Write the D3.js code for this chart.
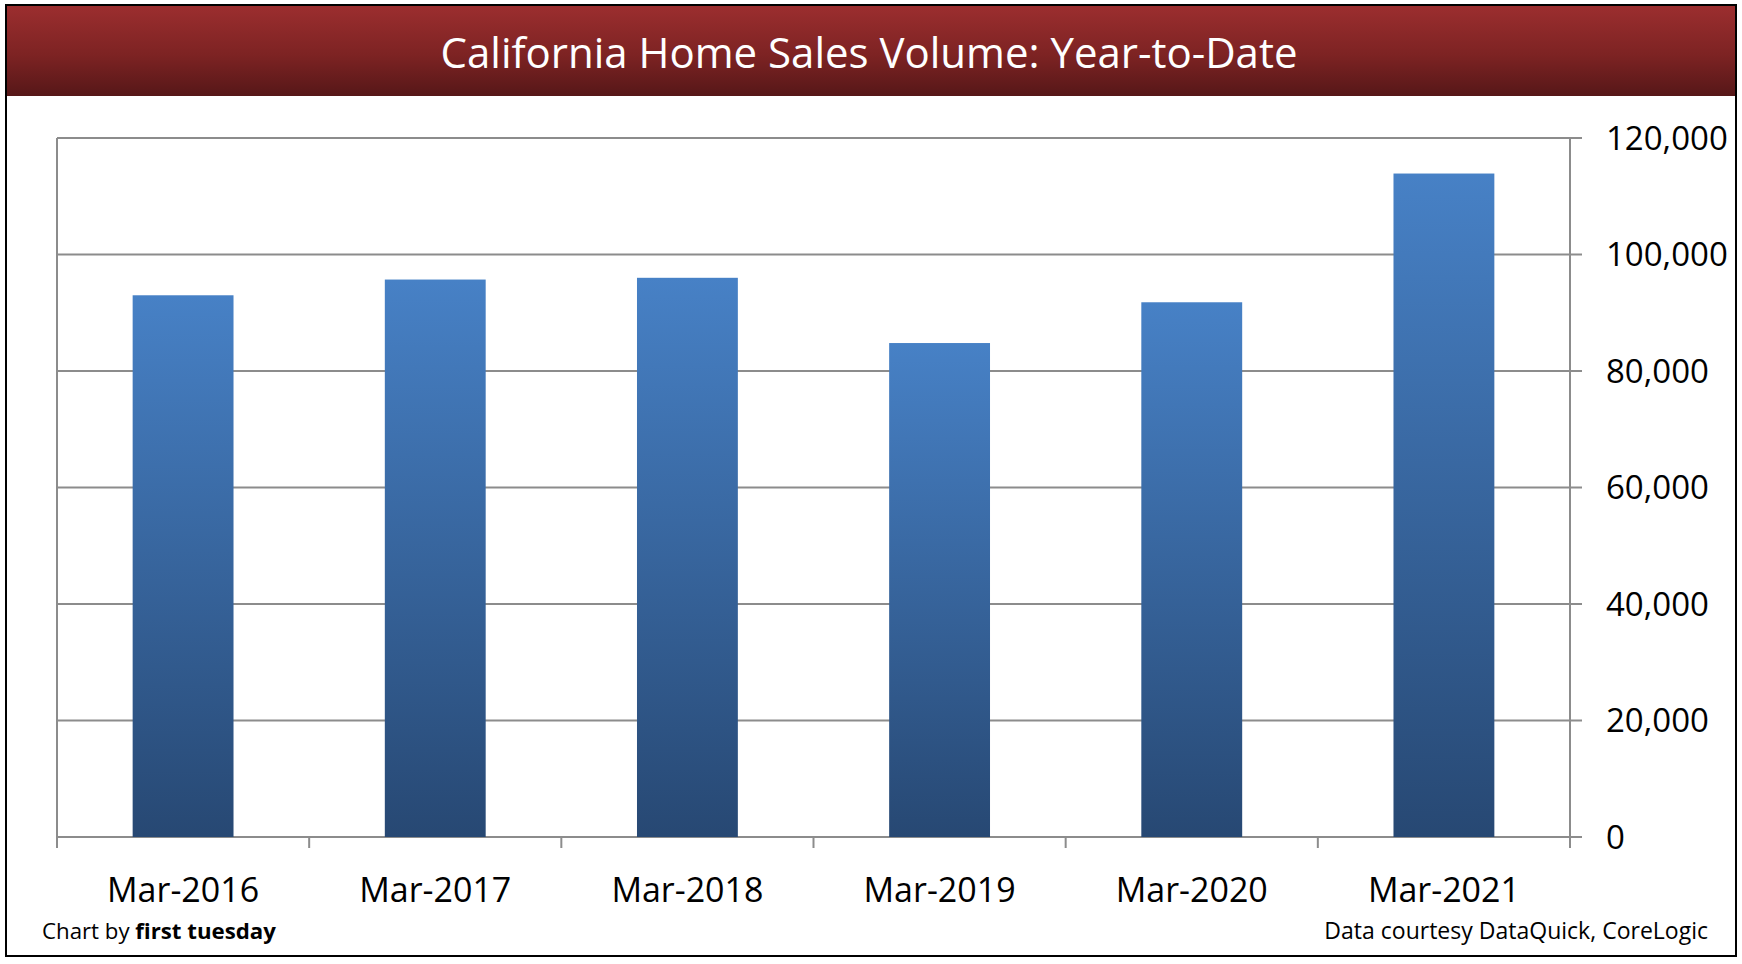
<!DOCTYPE html>
<html>
<head>
<meta charset="utf-8">
<script src="https://cdn.jsdelivr.net/npm/d3@7"></script>
<style>
  body { margin: 0; background: #fff; }
  text { font-family: "Open Sans", sans-serif; }
</style>
</head>
<body>
<div id="chart"></div>
<script>
// data
var months = ["Mar-2016", "Mar-2017", "Mar-2018", "Mar-2019", "Mar-2020", "Mar-2021"]
var sales = [93000, 95700, 96000, 84800, 91800, 113900]
var yTicks = [0, 20000, 40000, 60000, 80000, 100000, 120000]

var width = 1742, height = 964

var plot = { left: 57, right: 1570, top: 138, bottom: 837 }

var svg = d3.select("#chart")
  .append("svg")
  .attr("width", width)
  .attr("height", height)

var defs = svg.append("defs")

var hg = defs.append("linearGradient")
  .attr("id", "headGrad")
  .attr("x1", 0).attr("y1", 0).attr("x2", 0).attr("y2", 1)
hg.append("stop").attr("offset", "0%").attr("stop-color", "#9c2e2f")
hg.append("stop").attr("offset", "55%").attr("stop-color", "#7d2323")
hg.append("stop").attr("offset", "100%").attr("stop-color", "#561718")

var bg = defs.append("linearGradient")
  .attr("id", "barGrad")
  .attr("x1", 0).attr("y1", 0).attr("x2", 0).attr("y2", 1)
bg.append("stop").attr("offset", "0%").attr("stop-color", "#4781c6")
bg.append("stop").attr("offset", "100%").attr("stop-color", "#274873")

// header bar
svg.append("rect")
  .attr("x", 6).attr("y", 5)
  .attr("width", 1730).attr("height", 91)
  .attr("fill", "url(#headGrad)")

function fitText(sel, target) {
  var size = +sel.attr("font-size")
  var w = sel.node().getComputedTextLength()
  sel.attr("font-size", size * target / w)
}

var title = svg.append("text")
  .attr("x", 869).attr("y", 68)
  .attr("text-anchor", "middle")
  .attr("font-size", 40)
  .attr("fill", "#fff")
  .text("California Home Sales Volume: Year-to-Date")
fitText(title, 857)

var x = d3.scaleBand()
  .domain(months)
  .range([plot.left, plot.right])
  .paddingInner(0.6)
  .paddingOuter(0.3)

var y = d3.scaleLinear()
  .domain([0, 120000])
  .range([plot.bottom, plot.top])

var gridColor = "#8c8c8c"

// gridlines
svg.append("g")
  .selectAll("line")
  .data(yTicks)
  .enter()
  .append("line")
  .attr("x1", plot.left)
  .attr("x2", plot.right + 12)
  .attr("y1", function(d) { return y(d) })
  .attr("y2", function(d) { return y(d) })
  .attr("stroke", gridColor)
  .attr("stroke-width", 2)

// bars
svg.append("g")
  .selectAll("rect")
  .data(sales)
  .enter()
  .append("rect")
  .attr("x", function(d, i) { return x(months[i]) })
  .attr("y", function(d) { return y(d) })
  .attr("width", x.bandwidth())
  .attr("height", function(d) { return y(0) - y(d) })
  .attr("fill", "url(#barGrad)")

// left border line and right axis line
svg.append("line")
  .attr("x1", plot.left).attr("x2", plot.left)
  .attr("y1", plot.top).attr("y2", plot.bottom + 11)
  .attr("stroke", gridColor).attr("stroke-width", 2)

svg.append("line")
  .attr("x1", plot.right).attr("x2", plot.right)
  .attr("y1", plot.top).attr("y2", plot.bottom + 11)
  .attr("stroke", gridColor).attr("stroke-width", 2)

// x ticks at category boundaries
var step = x.step()
var boundaries = months.slice(1).map(function(m) { return x(m) - step * x.paddingInner() / 2 })
svg.append("g")
  .selectAll("line")
  .data(boundaries)
  .enter()
  .append("line")
  .attr("x1", function(d) { return d })
  .attr("x2", function(d) { return d })
  .attr("y1", plot.bottom)
  .attr("y2", plot.bottom + 11)
  .attr("stroke", gridColor)
  .attr("stroke-width", 2)

// y labels on the right
var fmt = d3.format(",")
svg.append("g")
  .selectAll("text")
  .data(yTicks)
  .enter()
  .append("text")
  .attr("x", 1606)
  .attr("y", function(d) { return y(d) })
  .attr("dy", "0.35em")
  .attr("font-size", 33)
  .attr("fill", "#000")
  .text(function(d) { return fmt(d) })

// x labels
svg.append("g")
  .selectAll("text")
  .data(months)
  .enter()
  .append("text")
  .attr("x", function(d) { return x(d) + x.bandwidth() / 2 })
  .attr("y", 902)
  .attr("text-anchor", "middle")
  .attr("font-size", 34)
  .attr("fill", "#000")
  .text(function(d) { return d })

// footer notes
var credit = svg.append("text")
  .attr("x", 42).attr("y", 939)
  .attr("font-size", 20)
  .attr("fill", "#000")
credit.append("tspan").text("Chart by ")
credit.append("tspan").attr("font-weight", "bold").text("first tuesday")
fitText(credit, 234)

var source = svg.append("text")
  .attr("x", 1708).attr("y", 939)
  .attr("text-anchor", "end")
  .attr("font-size", 20)
  .attr("fill", "#000")
  .text("Data courtesy DataQuick, CoreLogic")
fitText(source, 384)

// outer frame
svg.append("rect")
  .attr("x", 6).attr("y", 5)
  .attr("width", 1730).attr("height", 951)
  .attr("fill", "none")
  .attr("stroke", "#000")
  .attr("stroke-width", 2)
</script>
</body>
</html>
